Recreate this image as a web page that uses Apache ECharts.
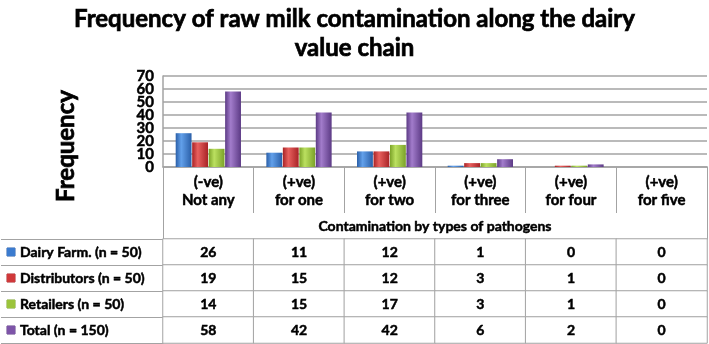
<!DOCTYPE html>
<html>
<head>
<meta charset="utf-8">
<title>Raw milk contamination</title>
<script src="https://cdn.jsdelivr.net/npm/echarts@6/dist/echarts.min.js"></script>
<style>
  html, body { margin: 0; padding: 0; background: #fff; }
  #chart { width: 709px; height: 344px; }
</style>
</head>
<body>
<div id="chart"></div>
<script>
// data
var categories = ['(-ve)\nNot any', '(+ve)\nfor one', '(+ve)\nfor two', '(+ve)\nfor three', '(+ve)\nfor four', '(+ve)\nfor five'];
var seriesNames = ['Dairy Farm. (n = 50)', 'Distributors (n = 50)', 'Retailers (n = 50)', 'Total (n = 150)'];
var dairyFarm = [26, 11, 12, 1, 0, 0];
var distributors = [19, 15, 12, 3, 1, 0];
var retailers = [14, 15, 17, 3, 1, 0];
var total = [58, 42, 42, 6, 2, 0];
var yTicks = { min: 0, max: 70, interval: 10 };
// tick labels split over two axes so the packed labels are not dropped
var yLabelsEven = [0, 20, 40, 60];
var yLabelsOdd = [10, 30, 50, 70];

var FONT = 'Lato';
var W = 'bold';
var GRID_LINE = '#a3a3a3';
// slight stroke so the bold text looks as heavy as the original
var heavy = { textBorderColor: '#000', textBorderWidth: 0.5 };
// base / dark / light shades for the bevel look
var palette = [
  ['#3b7bcf', '#2a5fa8', '#62a0ea'],
  ['#d0383a', '#a82326', '#e8605e'],
  ['#9bc43b', '#7ba228', '#bbe060'],
  ['#7d54a8', '#5c3a85', '#a27ccb']
];

function barGradient(p) {
  return new echarts.graphic.LinearGradient(0, 0, 1, 0, [
    { offset: 0, color: p[1] },
    { offset: 0.35, color: p[2] },
    { offset: 1, color: p[1] }
  ]);
}

function txt(size, extra) {
  return Object.assign({ fontFamily: FONT, fontWeight: W, fontSize: size, color: '#000' }, heavy, extra || {});
}

var values = [dairyFarm, distributors, retailers, total];

// table cells: [column, row, value]
var tableCells = [];
values.forEach(function (arr, row) {
  arr.forEach(function (v, col) {
    tableCells.push([col, row, v]);
  });
});

var iconRich = {};
palette.forEach(function (p, i) {
  iconRich['m' + i] = { width: 8, height: 8, backgroundColor: p[0], borderColor: p[1], borderWidth: 0.5 };
});
iconRich.t = txt(14, { padding: [0, 0, 0, 5] });

var chart = echarts.init(document.getElementById('chart'), null, { renderer: 'canvas' });

var option = {
  animation: false,
  title: {
    text: 'Frequency of raw milk contamination along the dairy\nvalue chain',
    left: 'center',
    top: 0,
    textStyle: txt(24, { lineHeight: 29, textBorderWidth: 0.7 })
  },
  graphic: [{
    type: 'text',
    x: 66,
    y: 146,
    rotation: Math.PI / 2,
    style: {
      text: 'Frequency',
      fontFamily: FONT, fontWeight: W, fontSize: 24, fill: '#000',
      stroke: '#000', lineWidth: 0.7,
      textAlign: 'center', textVerticalAlign: 'middle'
    }
  }],
  grid: [
    { left: 163, right: 2, top: 76, height: 91 },   // bars
    { left: 163, right: 2, top: 239, height: 104 },  // data table
    { left: 163, right: 2, top: 167, height: 72 }    // frame round the labels
  ],
  xAxis: [
    {
      gridIndex: 0,
      type: 'category',
      data: categories,
      axisLine: { lineStyle: { color: GRID_LINE, width: 1.5 } },
      axisTick: { show: true, length: 46, interval: 0, lineStyle: { color: GRID_LINE } },
      axisLabel: Object.assign({ interval: 0, margin: 6 }, txt(15, { lineHeight: 18 })),
      name: 'Contamination by types of pathogens',
      nameLocation: 'middle',
      nameGap: 52,
      nameTextStyle: txt(14)
    },
    { gridIndex: 1, type: 'category', data: categories, show: false },
    { gridIndex: 2, type: 'category', data: categories, show: false }
  ],
  yAxis: [
    {
      gridIndex: 0,
      type: 'value',
      min: yTicks.min, max: yTicks.max, interval: yTicks.interval,
      axisLine: { show: true, lineStyle: { color: GRID_LINE, width: 1.5 } },
      axisTick: { show: false },
      splitLine: { lineStyle: { color: GRID_LINE, width: 1.5 } },
      axisLabel: Object.assign({ margin: 9, customValues: yLabelsEven }, txt(15))
    },
    {
      gridIndex: 1,
      type: 'category',
      data: seriesNames,
      inverse: true,
      axisLine: { show: true, lineStyle: { color: GRID_LINE } },
      axisTick: { show: true, length: 162, lineStyle: { color: GRID_LINE } },
      axisLabel: {
        margin: 156,
        align: 'left',
        formatter: function (name, i) { return '{m' + i + '|}{t|' + name + '}'; },
        rich: iconRich
      }
    },
    {
      // outer left border of the legend column
      gridIndex: 1,
      type: 'category',
      data: seriesNames,
      offset: 162,
      axisLine: { show: true, lineStyle: { color: GRID_LINE } },
      axisTick: { show: false },
      axisLabel: { show: false }
    },
    {
      gridIndex: 2, type: 'value', min: 0, max: 1, position: 'left',
      axisLine: { show: true, lineStyle: { color: GRID_LINE } },
      axisTick: { show: false }, axisLabel: { show: false }, splitLine: { show: false }
    },
    {
      gridIndex: 2, type: 'value', min: 0, max: 1, position: 'right',
      axisLine: { show: true, lineStyle: { color: GRID_LINE } },
      axisTick: { show: false }, axisLabel: { show: false }, splitLine: { show: false }
    },
    {
      // second label layer for the odd tens
      gridIndex: 0,
      type: 'value',
      position: 'left',
      min: yTicks.min, max: yTicks.max, interval: yTicks.interval,
      axisLine: { show: false },
      axisTick: { show: false },
      splitLine: { show: false },
      axisLabel: Object.assign({ margin: 9, customValues: yLabelsOdd }, txt(15))
    }
  ],
  series: values.map(function (arr, i) {
    return {
      name: seriesNames[i],
      type: 'bar',
      xAxisIndex: 0,
      yAxisIndex: 0,
      data: arr,
      barGap: '4%',
      barCategoryGap: '28%',
      itemStyle: { color: barGradient(palette[i]) }
    };
  }).concat([{
    type: 'heatmap',
    xAxisIndex: 1,
    yAxisIndex: 1,
    data: tableCells,
    itemStyle: { color: '#fff', borderColor: GRID_LINE, borderWidth: 1 },
    label: Object.assign({
      show: true,
      formatter: function (p) { return p.value[2]; }
    }, txt(14)),
    emphasis: { disabled: true }
  }])
};

chart.setOption(option);
</script>
</body>
</html>
